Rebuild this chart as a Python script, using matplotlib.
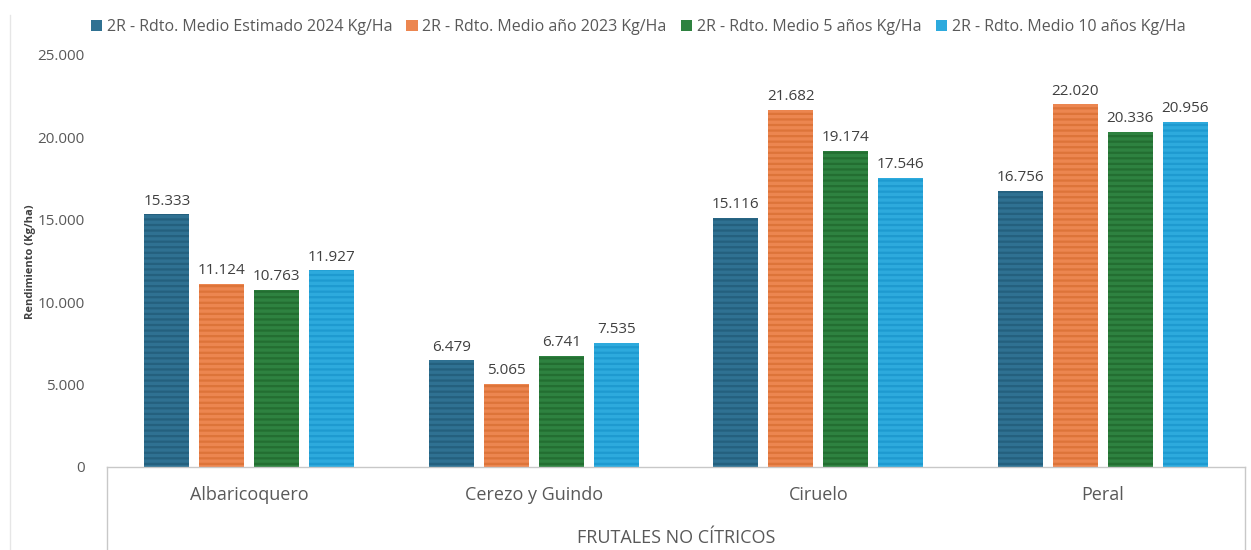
import matplotlib
matplotlib.use("Agg")
import matplotlib.pyplot as plt
import numpy as np
from matplotlib.lines import Line2D

plt.rcParams['font.family'] = ['Open Sans', 'DejaVu Sans']
plt.rcParams['hatch.linewidth'] = 1.6

categories = ["Albaricoquero", "Cerezo y Guindo", "Ciruelo", "Peral"]
series_names = [
    "2R - Rdto. Medio Estimado 2024 Kg/Ha",
    "2R - Rdto. Medio año 2023 Kg/Ha",
    "2R - Rdto. Medio 5 años Kg/Ha",
    "2R - Rdto. Medio 10 años Kg/Ha",
]
est_2024 = [15333, 6479, 15116, 16756]
anio_2023 = [11124, 5065, 21682, 22020]
medio_5 = [10763, 6741, 19174, 20336]
medio_10 = [11927, 7535, 17546, 20956]
series_values = [est_2024, anio_2023, medio_5, medio_10]
y_ticks = [0, 5000, 10000, 15000, 20000, 25000]
y_tick_labels = ["0", "5.000", "10.000", "15.000", "20.000", "25.000"]
group_label = "FRUTALES NO CÍTRICOS"
y_label = "Rendimiento (Kg/ha)"

face_colors = ["#2F7192", "#EC8650", "#2E8240", "#2DAADD"]
stripe_colors = ["#24607E", "#DD7439", "#236E31", "#1E9AD0"]

fig = plt.figure(figsize=(12.51, 5.5), dpi=100)
ax = fig.add_axes([107/1251, 1-467/550, (1245-107)/1251, (467-55)/550])

x = np.arange(len(categories))
width = 0.158
step = 0.193
text_color = "#595959"

for i, (vals, fc, sc) in enumerate(zip(series_values, face_colors, stripe_colors)):
    pos = x + (i - 1.5) * step
    bars = ax.bar(pos, vals, width=width, color=fc, edgecolor=sc, linewidth=0,
                  hatch='---', label=series_names[i], zorder=2)
    for b, v in zip(bars, vals):
        ax.annotate(f"{v:,}".replace(",", "."), (b.get_x() + b.get_width()/2, v),
                    xytext=(0, 4), textcoords="offset points", ha="center", va="bottom",
                    fontsize=11, color="#404040")

ax.set_xlim(-0.5, 3.5)
ax.set_ylim(0, 25000)
ax.set_yticks(y_ticks)
ax.set_yticklabels(y_tick_labels, fontsize=11, color=text_color)
ax.set_xticks(x)
ax.set_xticklabels(categories, fontsize=13, color=text_color)
ax.tick_params(axis='x', length=0, pad=14)
ax.tick_params(axis='y', length=0, pad=16)
for s in ['top', 'right', 'left']:
    ax.spines[s].set_visible(False)
ax.spines['bottom'].set_color("#C8C8C8")
ax.spines['bottom'].set_linewidth(1.0)

fig.text(30/1251, 1-262/550, y_label, rotation=90, ha='center', va='center',
         fontsize=8, fontweight='bold', color="#404040")

# category box lines
for xp in [107, 1245]:
    fig.add_artist(Line2D([xp/1251, xp/1251], [0, 1-467/550], color="#C8C8C8", lw=1.0))
# faint chart border on the left
fig.add_artist(Line2D([10/1251, 10/1251], [0, 1-15/550], color="#E6E6E6", lw=1.0))

fig.text(676/1251, 1-538/550, group_label, ha='center', va='center', fontsize=13, color=text_color)

handles = [plt.Rectangle((0, 0), 1, 1, facecolor=fc, edgecolor='none') for fc in face_colors]
fig.legend(handles, series_names, loc='center', bbox_to_anchor=(638/1251, 1-27/550), ncol=4,
           frameon=False, fontsize=11.5, labelcolor=text_color, handlelength=0.7, handleheight=0.7,
           handletextpad=0.3, columnspacing=0.9)

fig.savefig("out.png", dpi=100)
